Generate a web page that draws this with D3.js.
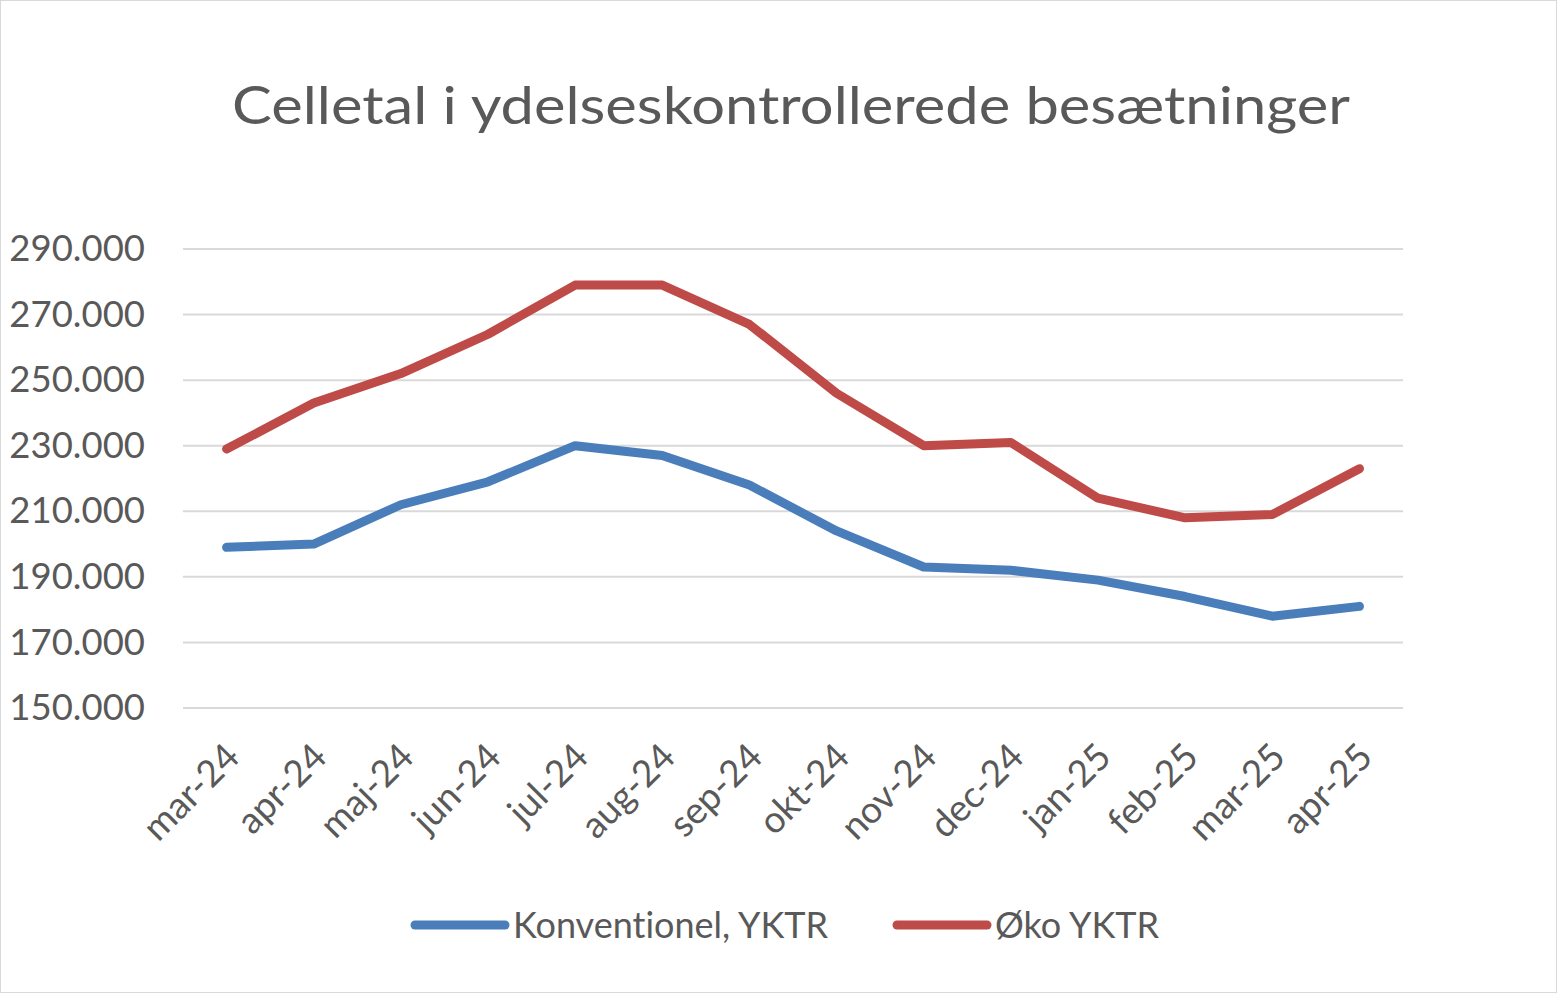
<!DOCTYPE html>
<html>
<head>
<meta charset="utf-8">
<script src="https://cdn.jsdelivr.net/npm/d3@7"></script>
<style>
  html, body { margin: 0; padding: 0; background: #fff; }
  svg text { font-family: Lato, "Open Sans", sans-serif; fill: #595959; font-variant-ligatures: none; }
</style>
</head>
<body>
<svg id="chart" width="1557" height="993"></svg>
<script>
'use strict';

var title = "Celletal i ydelseskontrollerede besætninger";
var months = ["mar-24", "apr-24", "maj-24", "jun-24", "jul-24", "aug-24", "sep-24",
  "okt-24", "nov-24", "dec-24", "jan-25", "feb-25", "mar-25", "apr-25"];
var konventionel = [199000, 200000, 212000, 219000, 230000, 227000, 218000,
  204000, 193000, 192000, 189000, 184000, 178000, 181000];
var oko = [229000, 243000, 252000, 264000, 279000, 279000, 267000,
  246000, 230000, 231000, 214000, 208000, 209000, 223000];
var yTicks = [150000, 170000, 190000, 210000, 230000, 250000, 270000, 290000];
var seriesNames = ["Konventionel, YKTR", "Øko YKTR"];
var seriesColors = ["#4a7ebb", "#be4b48"];

var svg = d3.select("#chart");
var W = 1557, H = 993;

svg.append("rect")
  .attr("x", 0.5).attr("y", 0.5)
  .attr("width", W - 1).attr("height", H - 1)
  .attr("fill", "#fff").attr("stroke", "#d9d9d9");

// title
svg.append("text")
  .attr("x", 791).attr("y", 124)
  .attr("text-anchor", "middle")
  .attr("font-size", 53)
  .attr("textLength", 1118)
  .attr("lengthAdjust", "spacingAndGlyphs")
  .text(title);

var left = 183, right = 1403;
var x = d3.scaleBand().domain(months).range([left, right]);
var y = d3.scaleLinear().domain([150000, 290000]).range([708, 249]);

// gridlines
svg.append("g").selectAll("line")
  .data(yTicks)
  .join("line")
  .attr("x1", left).attr("x2", right)
  .attr("y1", function(d) { return y(d); })
  .attr("y2", function(d) { return y(d); })
  .attr("stroke", "#d9d9d9").attr("stroke-width", 2);

// y axis labels
var yAxis = svg.append("g")
  .attr("transform", "translate(145,0)")
  .call(d3.axisLeft(y).tickValues(yTicks).tickSize(0).tickPadding(0)
    .tickFormat(function(d) { return d3.format(".3f")(d / 1000); }));
yAxis.select(".domain").remove();
yAxis.selectAll("text")
  .attr("font-size", 36.5)
  .attr("fill", "#595959")
  .attr("font-family", "Lato, 'Open Sans', sans-serif");

// x axis labels
var xAxis = svg.append("g")
  .attr("transform", "translate(0,740)")
  .call(d3.axisBottom(x).tickSize(0).tickPadding(0));
xAxis.select(".domain").remove();
xAxis.selectAll("text")
  .attr("font-size", 37)
  .attr("fill", "#595959")
  .attr("font-family", "Lato, 'Open Sans', sans-serif")
  .attr("text-anchor", "end")
  .attr("dy", "0.35em")
  .attr("transform", "translate(6,10) rotate(-45)");

// lines
var line = d3.line()
  .x(function(d, i) { return x(months[i]) + x.bandwidth() / 2; })
  .y(function(d) { return y(d); });

[konventionel, oko].forEach(function(values, i) {
  svg.append("path")
    .datum(values)
    .attr("d", line)
    .attr("fill", "none")
    .attr("stroke", seriesColors[i])
    .attr("stroke-width", 9)
    .attr("stroke-linejoin", "round")
    .attr("stroke-linecap", "round");
});

// legend
var legendX = [415, 897];
var legend = svg.append("g").selectAll("g")
  .data(seriesNames)
  .join("g")
  .attr("transform", function(d, i) { return "translate(" + legendX[i] + ",925)"; });
legend.append("line")
  .attr("x1", 0).attr("x2", 90)
  .attr("stroke", function(d, i) { return seriesColors[i]; })
  .attr("stroke-width", 9)
  .attr("stroke-linecap", "round");
legend.append("text")
  .attr("x", 98).attr("y", 13)
  .attr("font-size", 36)
  .text(function(d) { return d; });
</script>
</body>
</html>
